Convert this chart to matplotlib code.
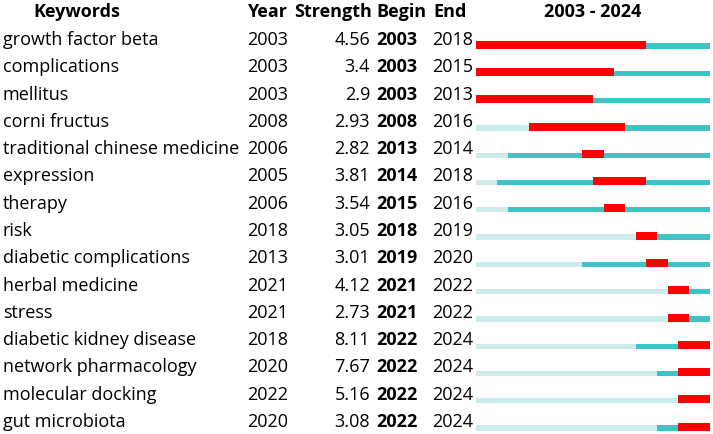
import matplotlib as mpl
mpl.use('Agg')
from matplotlib import pyplot as plt
from matplotlib.transforms import blended_transform_factory

plt.rcParams['font.family'] = ['Open Sans', 'DejaVu Sans']

## ------------------------------------------------------------------
##  Data: keywords with the strongest citation bursts
## ------------------------------------------------------------------
keywords = ['growth factor beta', 'complications', 'mellitus', 'corni fructus',
            'traditional chinese medicine', 'expression', 'therapy', 'risk',
            'diabetic complications', 'herbal medicine', 'stress',
            'diabetic kidney disease', 'network pharmacology',
            'molecular docking', 'gut microbiota']
years = [2003, 2003, 2003, 2008, 2006, 2005, 2006, 2018, 2013, 2021, 2021,
         2018, 2020, 2022, 2020]
strengths = [4.56, 3.4, 2.9, 2.93, 2.82, 3.81, 3.54, 3.05, 3.01, 4.12, 2.73,
             8.11, 7.67, 5.16, 3.08]
begins = [2003, 2003, 2003, 2008, 2013, 2014, 2015, 2018, 2019, 2021, 2021,
          2022, 2022, 2022, 2022]
ends = [2018, 2015, 2013, 2016, 2014, 2018, 2016, 2019, 2020, 2022, 2022,
        2024, 2024, 2024, 2024]
first_year, last_year = 2003, 2024

RED = '#ff0000'
TEAL = '#3ec4c4'
LIGHT = '#cdebeb'

W, H = 713, 434
fig = plt.figure(figsize=(W / 100, H / 100), dpi=100)

# bar area in pixels (left, right); rows are 27.3 px apart
bx0, bx1 = 475.5, 710.5
row_px = 27.29
base0 = 45.0  # baseline of first row, px from top
ax = fig.add_axes([bx0 / W, 0, (bx1 - bx0) / W, 1])
ax.set_xlim(first_year, last_year + 1)
ax.set_ylim((H - base0) / row_px, -base0 / row_px)
ax.axis('off')

# bars sit a little below the text baseline, bottom-aligned
drop = 3.7 / row_px
h_red = 8.0 / row_px
h_line = 5.3 / row_px
n = len(keywords)
rows = list(range(n))
span = last_year + 1 - first_year
ax.barh([r + drop - h_line / 2 for r in rows], [span] * n, height=h_line,
        left=first_year, color=LIGHT, linewidth=0)
ax.barh([r + drop - h_line / 2 for r in rows],
        [last_year + 1 - y for y in years], height=h_line, left=years,
        color=TEAL, linewidth=0)
ax.barh([r + drop - h_red / 2 for r in rows],
        [e + 1 - b for b, e in zip(begins, ends)], height=h_red, left=begins,
        color=RED, linewidth=0)

## ------------------------------------------------------------------
##  Table text (x in figure pixels, y in row units)
## ------------------------------------------------------------------
tr = blended_transform_factory(fig.transFigure, ax.transData)
fs = 13
def px(x):
    return x / W

hy = (17 - base0) / row_px
hdr = dict(transform=tr, fontsize=fs, fontweight='bold', va='baseline')
ax.text(px(77), hy, 'Keywords', ha='center', **hdr)
ax.text(px(247), hy, 'Year', ha='left', **hdr)
ax.text(px(372), hy, 'Strength', ha='right', **hdr)
ax.text(px(376), hy, 'Begin', ha='left', **hdr)
ax.text(px(433), hy, 'End', ha='left', **hdr)
ax.text(px((bx0 + bx1) / 2), hy, f'{first_year} - {last_year}', ha='center',
        **hdr)

cell = dict(transform=tr, fontsize=fs, va='baseline')
for r in rows:
    ax.text(px(3), r, keywords[r], ha='left', **cell)
    ax.text(px(247), r, str(years[r]), ha='left', **cell)
    ax.text(px(370), r, f'{strengths[r]:g}', ha='right', **cell)
    ax.text(px(376), r, str(begins[r]), ha='left', fontweight='bold', **cell)
    ax.text(px(432), r, str(ends[r]), ha='left', **cell)

fig.savefig('out.png', dpi=100)
